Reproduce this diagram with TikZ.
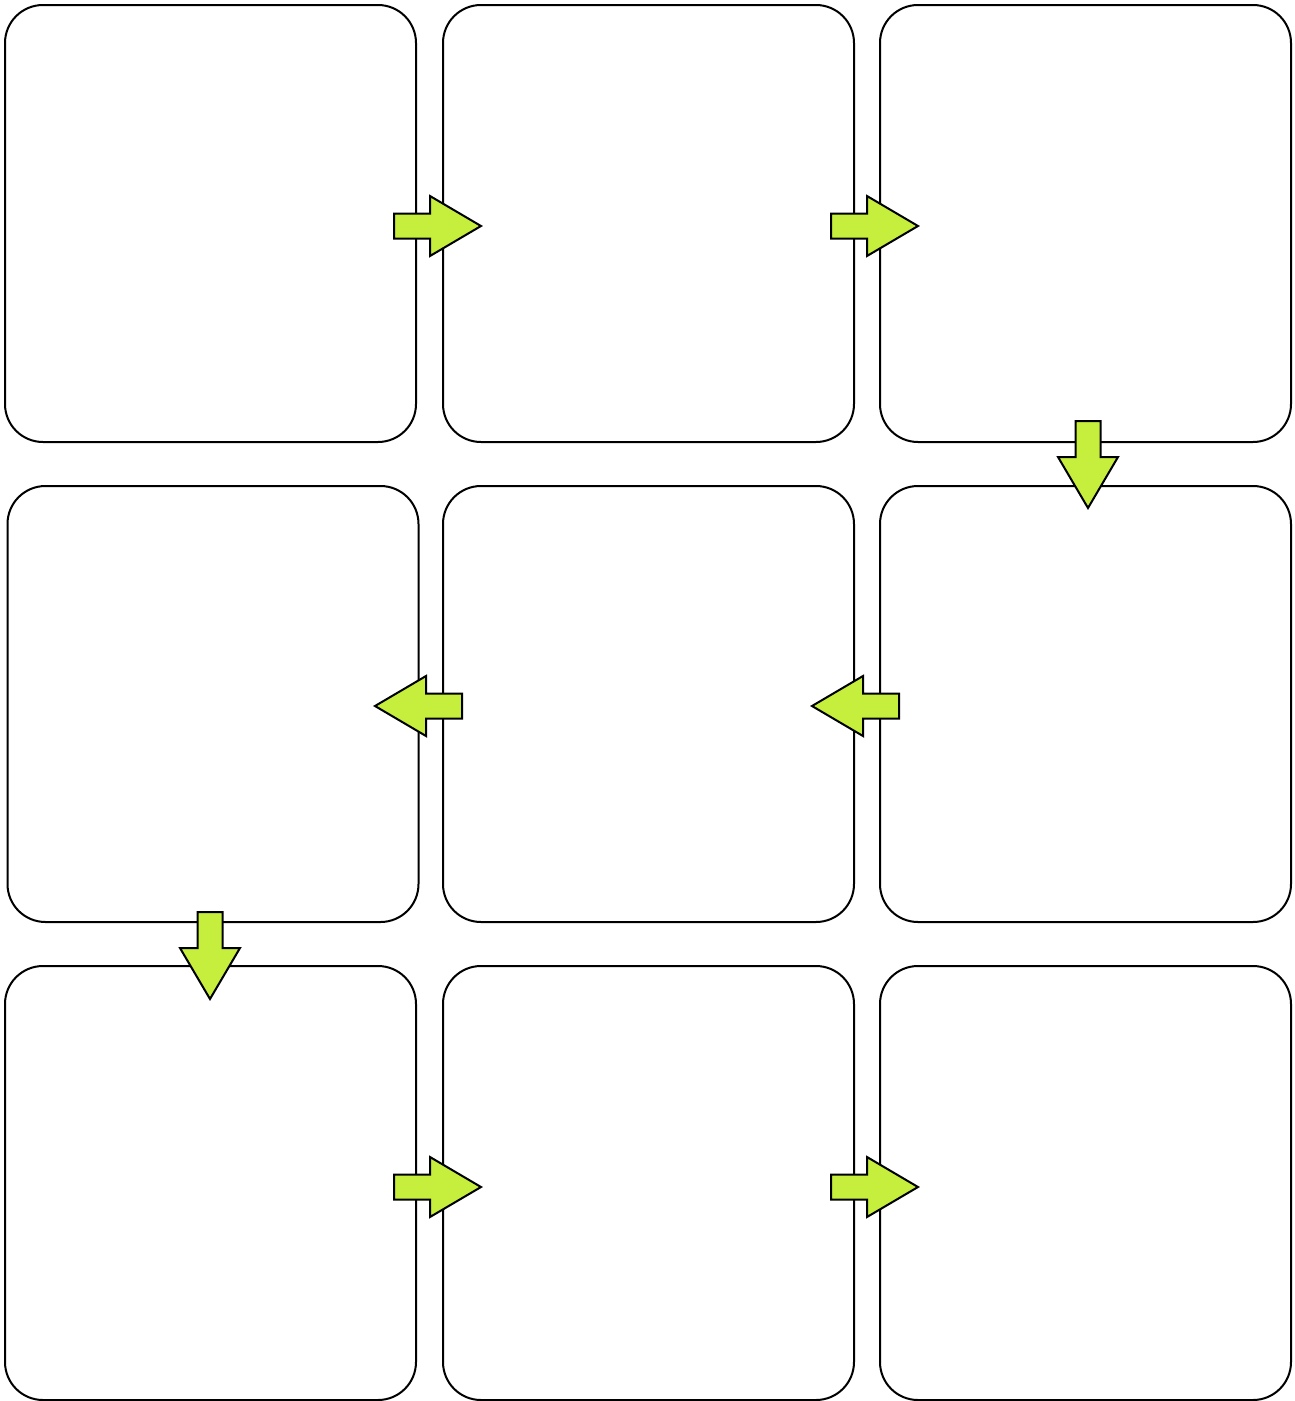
\documentclass[tikz,border=0pt]{standalone}
\usetikzlibrary{positioning}
\definecolor{arrowgreen}{RGB}{198,238,60}
\tikzset{
  panel/.style={draw=black, line width=2pt, rounded corners=38pt, rectangle, inner sep=0pt, fill=white},
  blk/.style={draw=black, line width=2pt, fill=arrowgreen, line join=miter}
}
% block arrows: shaft 25 wide, 36 long; head 60 wide, 51 long
\newcommand\rblk[2]{\draw[blk] ({#1},{#2-12.5}) -- ++(36,0) -- ++(0,-17.5) -- ++(51,30) -- ++(-51,30) -- ++(0,-17.5) -- ++(-36,0) -- cycle;}
\newcommand\lblk[2]{\draw[blk] ({#1},{#2-12.5}) -- ++(-36,0) -- ++(0,-17.5) -- ++(-51,30) -- ++(51,30) -- ++(0,-17.5) -- ++(36,0) -- cycle;}
\newcommand\dblk[2]{\draw[blk] ({#1-12.5},{#2}) -- ++(0,36) -- ++(-17.5,0) -- ++(30,51) -- ++(30,-51) -- ++(-17.5,0) -- ++(0,-36) -- cycle;}
\begin{document}
\begin{tikzpicture}[x=1pt,y=-1pt]
\useasboundingbox (0,0) rectangle (1295,1401);
% row 1
\node[panel, minimum width=411pt, minimum height=437pt] (p11) at (210.5,223.5) {};
\node[panel, minimum width=411pt, minimum height=437pt] (p12) at (648.5,223.5) {};
\node[panel, minimum width=411pt, minimum height=437pt] (p13) at (1085.5,223.5) {};
% row 2
\node[panel, minimum width=411pt, minimum height=436pt] (p21) at (213,704) {};
\node[panel, minimum width=411pt, minimum height=436pt] (p22) at (648.5,704) {};
\node[panel, minimum width=411pt, minimum height=436pt] (p23) at (1085.5,704) {};
% row 3
\node[panel, minimum width=411pt, minimum height=434pt] (p31) at (210.5,1183) {};
\node[panel, minimum width=411pt, minimum height=434pt] (p32) at (648.5,1183) {};
\node[panel, minimum width=411pt, minimum height=434pt] (p33) at (1085.5,1183) {};
% arrows
\rblk{394}{226}
\rblk{831}{226}
\dblk{1088}{421}
\lblk{899}{706}
\lblk{462}{706}
\dblk{210}{912}
\rblk{394}{1187}
\rblk{831}{1187}
\end{tikzpicture}
\end{document}
